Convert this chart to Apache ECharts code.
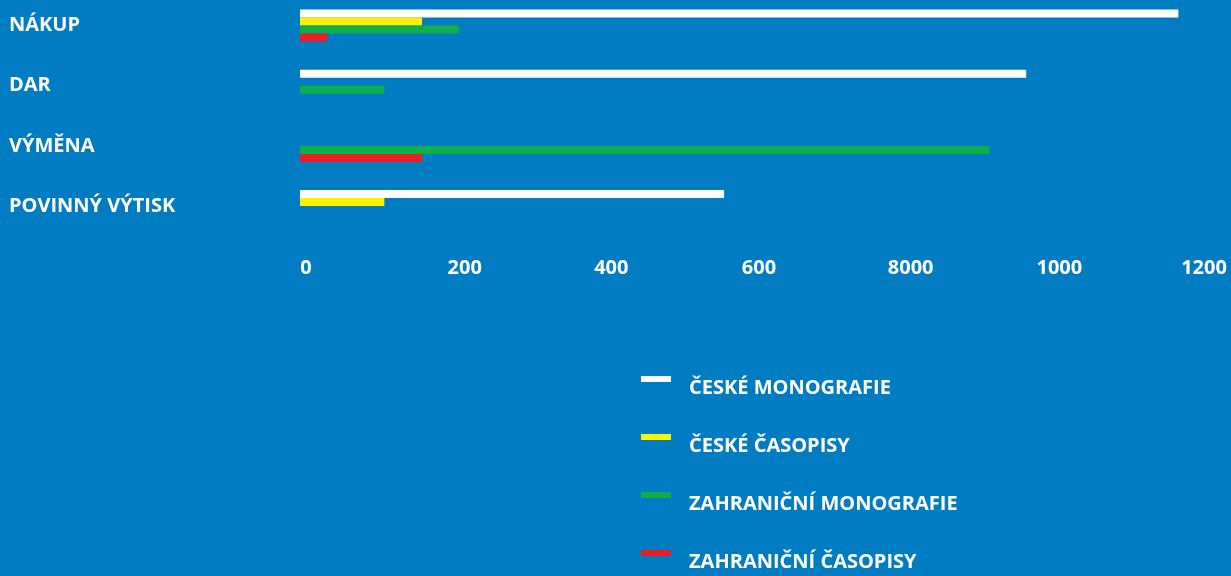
<!DOCTYPE html>
<html>
<head>
<meta charset="utf-8">
<script src="https://cdn.jsdelivr.net/npm/echarts@6/dist/echarts.min.js"></script>
<style>
  html, body { margin: 0; padding: 0; background: #007cc2; }
  #chart { width: 1231px; height: 576px; }
</style>
</head>
<body>
<div id="chart"></div>
<script>
// kategorie (shora dolů)
const categories = ['NÁKUP', 'DAR', 'VÝMĚNA', 'POVINNÝ VÝTISK']
// řady
const seriesNames = ['ČESKÉ MONOGRAFIE', 'ČESKÉ ČASOPISY', 'ZAHRANIČNÍ MONOGRAFIE', 'ZAHRANIČNÍ ČASOPISY']
const ceskeMonografie = [1166, 964, null, 563]
const ceskeCasopisy = [162, null, null, 112]
const zahranicniMonografie = [211, 112, 915, null]
const zahranicniCasopisy = [36, null, 162, null]
// popisky osy x (včetně překlepu z předlohy)
const tickLabels = ['0', '200', '400', '600', '8000', '1000', '1200']

const colors = ['#ffffff', '#fff200', '#0db04b', '#ed1c24']
const font = 'Open Sans'
// posun popisků osy x doprava (px), jak jsou v předloze
const labelShift = [6, 14, 10, 7, 8, 6, 0]

const chart = echarts.init(document.getElementById('chart'))

const seriesData = [ceskeMonografie, ceskeCasopisy, zahranicniMonografie, zahranicniCasopisy]
const series = seriesData.map((data, i) => ({
    name: seriesNames[i],
    type: 'bar',
    data,
    barWidth: 8,
    barGap: '0%',
    clip: false,
    itemStyle: { color: colors[i] },
    silent: true
}))

const tickRich = {}
labelShift.forEach((s, i) => {
    tickRich['t' + i] = {
        color: '#ffffff',
        fontFamily: font,
        fontWeight: 'bold',
        fontSize: 20,
        padding: [0, 0, 0, s * 2]
    }
})

chart.setOption({
    backgroundColor: '#007cc2',
    animation: false,
    grid: {
        left: 300,
        top: 25.5,
        width: 904,
        height: 180.6
    },
    xAxis: {
        type: 'value',
        min: 0,
        max: 1200,
        interval: 200,
        axisLine: { show: false },
        axisTick: { show: false },
        splitLine: { show: false },
        axisLabel: {
            margin: 52,
            color: '#ffffff',
            fontFamily: font,
            fontWeight: 'bold',
            fontSize: 20,
            formatter: (v) => {
                const i = Math.round(v / 200)
                return '{t' + i + '|' + tickLabels[i] + '}'
            },
            rich: tickRich
        }
    },
    yAxis: {
        type: 'category',
        data: categories,
        inverse: true,
        boundaryGap: false,
        axisLine: { show: false },
        axisTick: { show: false },
        splitLine: { show: false },
        axisLabel: {
            margin: 291,
            align: 'left',
            color: '#ffffff',
            fontFamily: font,
            fontWeight: 'bold',
            fontSize: 20
        }
    },
    legend: {
        orient: 'vertical',
        left: 641,
        top: 360,
        padding: 0,
        itemWidth: 30,
        itemHeight: 6,
        itemGap: 20,
        icon: 'rect',
        selectedMode: false,
        data: seriesNames,
        formatter: (name) => '{a|' + name + '}',
        textStyle: {
            color: '#ffffff',
            fontFamily: font,
            fontWeight: 'bold',
            fontSize: 20,
            rich: {
                a: {
                    color: '#ffffff',
                    fontFamily: font,
                    fontWeight: 'bold',
                    fontSize: 20,
                    lineHeight: 20,
                    padding: [18, 0, 0, 13]
                }
            }
        }
    },
    series
})
</script>
</body>
</html>
